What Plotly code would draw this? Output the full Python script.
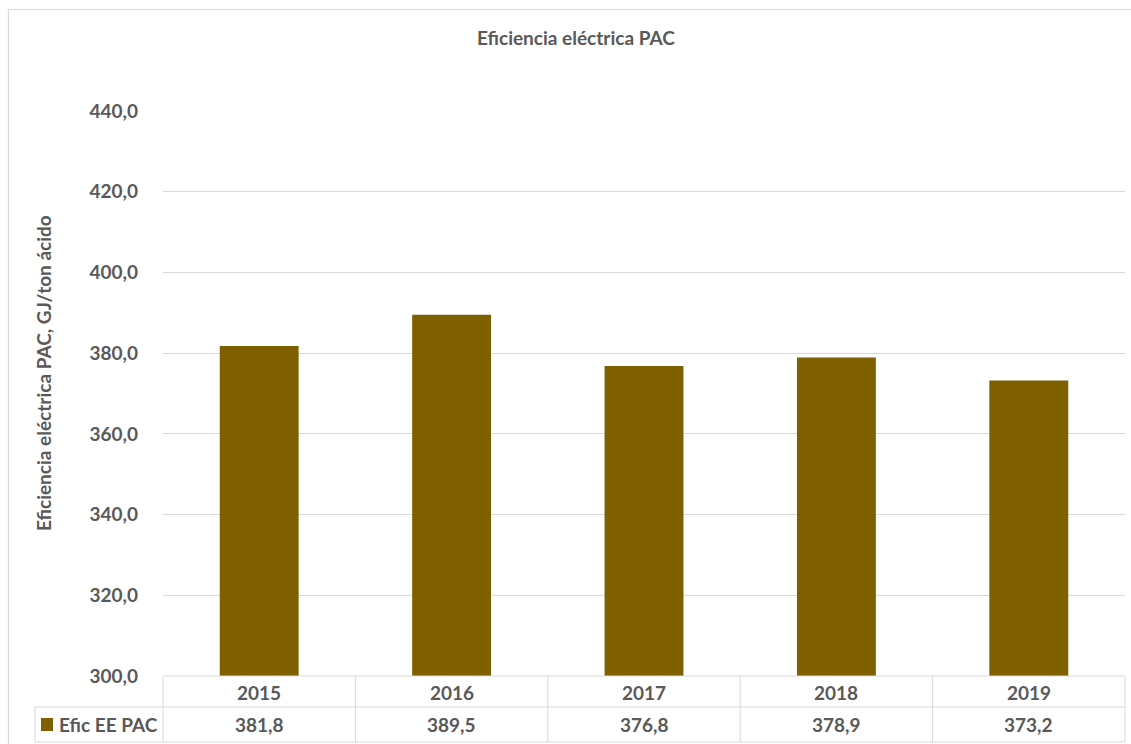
import plotly.graph_objects as go

years = ["2015", "2016", "2017", "2018", "2019"]
efic_ee_pac = [381.8, 389.5, 376.8, 378.9, 373.2]
series_name = "Efic EE PAC"
chart_title = "Eficiencia eléctrica PAC"
y_title = "Eficiencia eléctrica PAC, GJ/ton ácido"

W, H = 1131, 744
L, R, T, B = 163, 6, 111, 68
PW, PH = W - L - R, H - T - B

BAR = "#7F6000"
GRID = "#D9D9D9"
TXT = "#595959"
FONT = "Lato"
FS = 19


def px(x):
    return (x - L) / PW


def py(y):
    return (H - B - y) / PH


def fmt(v):
    return f"{v:.1f}".replace(".", ",")


def label(x, y, text, xanchor="center", angle=0):
    return dict(xref="paper", yref="paper", x=x, y=y, text=f"<b>{text}</b>",
                showarrow=False, xanchor=xanchor, yanchor="middle", textangle=angle,
                font=dict(family=FONT, size=FS, color=TXT))


fig = go.Figure(
    go.Bar(
        x=years,
        y=efic_ee_pac,
        marker=dict(color=BAR, line=dict(width=0)),
        width=0.41,
        name=series_name,
        showlegend=False,
    )
)

shapes = []
annotations = []

# chart frame
shapes.append(dict(type="rect", xref="paper", yref="paper",
                   x0=px(8.5), x1=px(1140), y0=py(9.5), y1=py(760),
                   line=dict(color=GRID, width=1.2), fillcolor="rgba(0,0,0,0)"))

# data table grid
row1, row2, row3 = 676, 707, 742
n = len(years)
line = dict(color=GRID, width=1)
shapes.append(dict(type="line", xref="paper", yref="paper", x0=0, x1=1,
                   y0=py(row1), y1=py(row1), line=line))
shapes.append(dict(type="line", xref="paper", yref="paper", x0=px(35), x1=1,
                   y0=py(row2), y1=py(row2), line=line))
shapes.append(dict(type="line", xref="paper", yref="paper", x0=px(35), x1=1,
                   y0=py(row3), y1=py(row3), line=line))
shapes.append(dict(type="line", xref="paper", yref="paper", x0=px(35), x1=px(35),
                   y0=py(row2), y1=py(row3), line=line))
for i in range(n + 1):
    shapes.append(dict(type="line", xref="paper", yref="paper", x0=i / n, x1=i / n,
                       y0=py(row1), y1=py(row3), line=line))

for i, (yr, v) in enumerate(zip(years, efic_ee_pac)):
    xc = (i + 0.5) / n
    annotations.append(label(xc, py((row1 + row2) / 2 + 1), yr))
    annotations.append(label(xc, py((row2 + row3) / 2), fmt(v)))

# legend key inside the table
shapes.append(dict(type="rect", xref="paper", yref="paper",
                   x0=px(41), x1=px(53), y0=py(731), y1=py(718),
                   fillcolor=BAR, line=dict(width=0)))
annotations.append(label(px(57), py((row2 + row3) / 2), series_name, xanchor="left"))

# titles
annotations.append(label(px(576), py(38), chart_title))
annotations.append(label(px(43), py(373), y_title, angle=-90))

fig.update_layout(
    width=W, height=H,
    margin=dict(l=L, r=R, t=T, b=B),
    paper_bgcolor="white", plot_bgcolor="white",
    separators=",.",
    shapes=shapes,
    annotations=annotations,
    xaxis=dict(showticklabels=False, showgrid=False, showline=False, ticks="",
               zeroline=False, range=[-0.5, n - 0.5]),
    yaxis=dict(range=[300, 440], dtick=20, tick0=300, tickformat=".1f",
               showgrid=True, gridcolor=GRID, gridwidth=1, zeroline=False,
               showline=False, ticks="", ticklabelstandoff=24,
               tickfont=dict(family=FONT, size=FS, color=TXT, weight="bold")),
    font=dict(family=FONT, color=TXT),
)

fig.write_html("out.html")
